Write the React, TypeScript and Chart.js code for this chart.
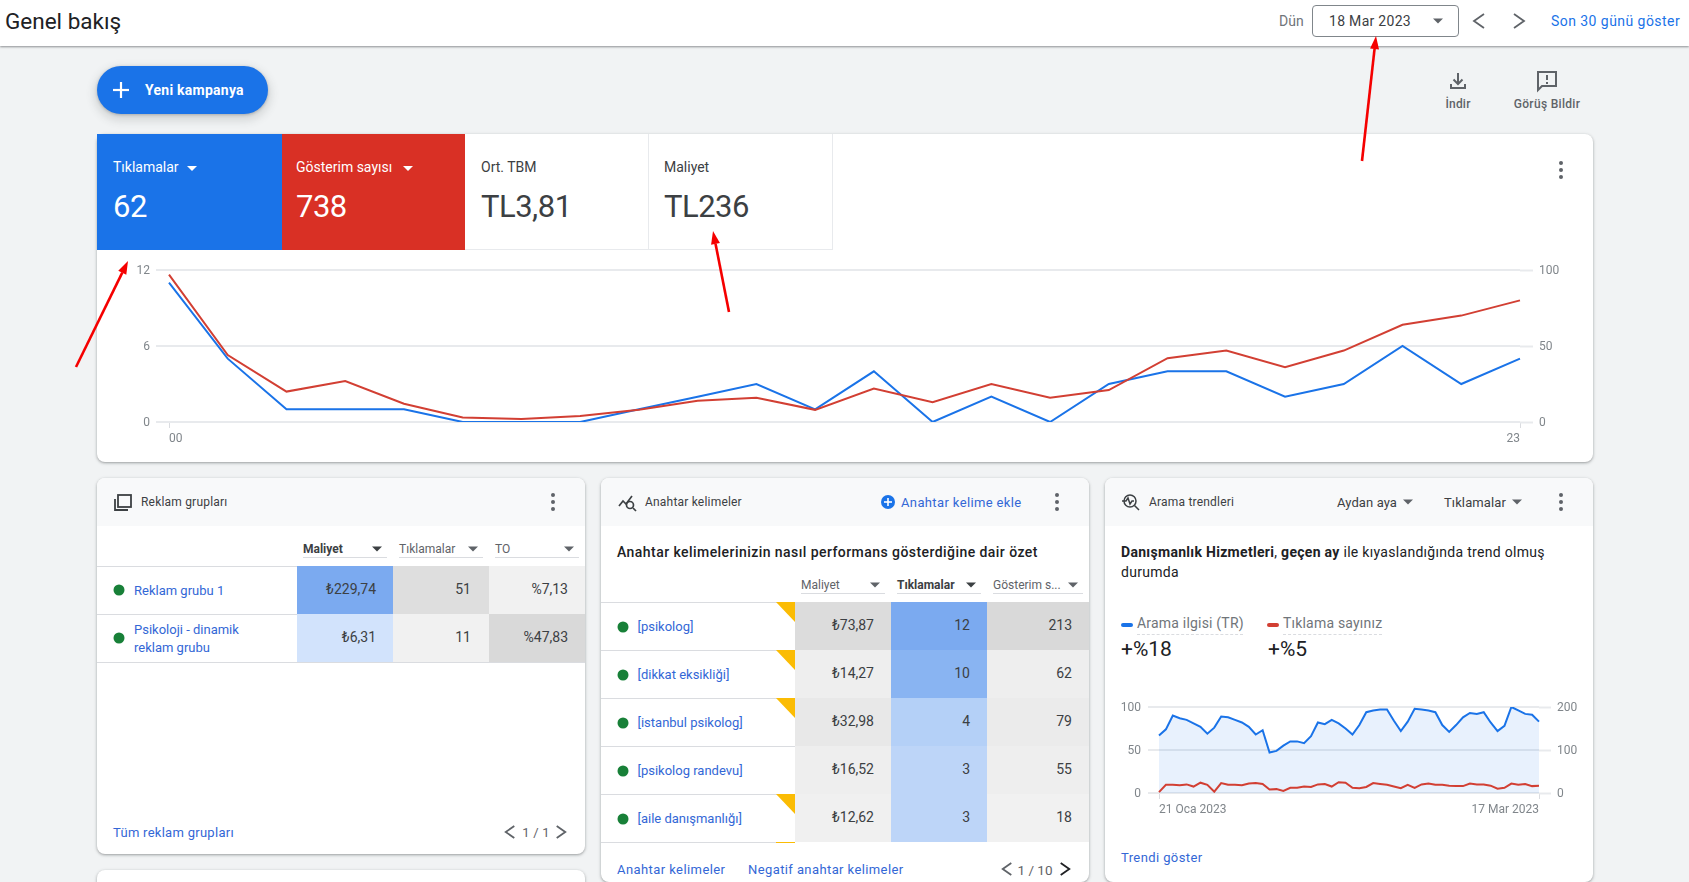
import React, { useEffect, useRef } from "react";
import { Chart, registerables } from "chart.js";

Chart.register(...registerables);

const hours = ["00","01","02","03","04","05","06","07","08","09","10","11","12","13","14","15","16","17","18","19","20","21","22","23"];
const clicks = [11,5,1,1,1,0,0,0,1,2,3,1,4,0,2,0,3,4,4,2,3,6,3,5];
const impressions = [97,44,20,27,12,3,2,4,8,14,16,8,22,13,25,16,21,42,47,36,47,64,70,80];
const leftTicks = { min: 0, max: 12, step: 6 };
const rightTicks = { min: 0, max: 100, step: 50 };

const trendDays = [
  "21 Oca 2023","22 Oca 2023","23 Oca 2023","24 Oca 2023","25 Oca 2023","26 Oca 2023","27 Oca 2023","28 Oca 2023","29 Oca 2023","30 Oca 2023","31 Oca 2023",
  "1 Şub 2023","2 Şub 2023","3 Şub 2023","4 Şub 2023","5 Şub 2023","6 Şub 2023","7 Şub 2023","8 Şub 2023","9 Şub 2023","10 Şub 2023","11 Şub 2023","12 Şub 2023","13 Şub 2023","14 Şub 2023","15 Şub 2023","16 Şub 2023","17 Şub 2023","18 Şub 2023","19 Şub 2023","20 Şub 2023","21 Şub 2023","22 Şub 2023","23 Şub 2023","24 Şub 2023","25 Şub 2023","26 Şub 2023","27 Şub 2023","28 Şub 2023",
  "1 Mar 2023","2 Mar 2023","3 Mar 2023","4 Mar 2023","5 Mar 2023","6 Mar 2023","7 Mar 2023","8 Mar 2023","9 Mar 2023","10 Mar 2023","11 Mar 2023","12 Mar 2023","13 Mar 2023","14 Mar 2023","15 Mar 2023","16 Mar 2023","17 Mar 2023",
];
const searchInterest = [67,74,90,87,85,81,77,69,76,89,88,85,82,77,68,73,47,49,55,60,60,58,66,82,80,85,81,75,68,79,94,96,97,97,84,72,83,98,97,96,94,79,71,79,88,93,92,94,82,72,78,100,96,92,91,83];
const trendClicks = [2,19,19,18,20,15,24,19,3,23,19,19,18,22,23,21,8,9,5,12,12,15,14,20,21,15,25,24,12,11,14,23,21,19,15,11,19,12,20,22,19,19,17,16,16,22,20,20,17,10,12,22,19,21,16,17];

const adGroupHeaders = ["Maliyet", "Tıklamalar", "TO"];
const adGroupNames = [["Reklam grubu 1"], ["Psikoloji - dinamik", "reklam grubu"]];
const adGroupCost = ["₺229,74", "₺6,31"];
const adGroupClicks = ["51", "11"];
const adGroupCtr = ["%7,13", "%47,83"];

const keywordHeaders = ["Maliyet", "Tıklamalar", "Gösterim s..."];
const keywordNames = ["[psikolog]", "[dikkat eksikliği]", "[istanbul psikolog]", "[psikolog randevu]", "[aile danışmanlığı]"];
const keywordCost = ["₺73,87", "₺14,27", "₺32,98", "₺16,52", "₺12,62"];
const keywordClicks = ["12", "10", "4", "3", "3"];
const keywordImpr = ["213", "62", "79", "55", "18"];
const keywordFlag = [true, true, true, false, true];

const BLUE = "#1a73e8";
const RED = "#d93025";
const LINE_RED = "#d23f33";
const LINK = "#3367d6";
const GRID = "#e8eaed";
const TICK = "#80868b";
const FONT = "Roboto, sans-serif";

type TP = { x: number; y: number; s?: number; c?: string; w?: number; a?: "l" | "r" | "c"; ls?: number; f?: string; children: React.ReactNode };
const T = ({ x, y, s = 13, c = "#3c4043", w = 400, a = "l", ls = 0, f = FONT, children }: TP) => (
  <div style={{ position: "absolute", left: x, top: y, fontFamily: f, fontSize: s, color: c, fontWeight: w, letterSpacing: ls, whiteSpace: "nowrap", lineHeight: 1.2,
    transform: `translate(${a === "l" ? "0" : a === "r" ? "-100%" : "-50%"},-50%)` }}>{children}</div>
);
const Box = ({ x, y, w, h, bg, style }: any) => (
  <div style={{ position: "absolute", left: x, top: y, width: w, height: h, background: bg, ...style }} />
);
const Card = ({ x, y, w, h }: any) => (
  <Box x={x} y={y} w={w} h={h} bg="#fff" style={{ borderRadius: 8, boxShadow: "0 1px 2px rgba(60,64,67,.3),0 1px 3px 1px rgba(60,64,67,.15)" }} />
);
const Head = ({ x, w }: any) => (
  <Box x={x} y={478} w={w} h={48} bg="#f8f9fa" style={{ borderRadius: "8px 8px 0 0" }} />
);
const Svg = ({ children }: any) => (
  <svg width={1689} height={882} style={{ position: "absolute", left: 0, top: 0, pointerEvents: "none" }}>{children}</svg>
);
const Dots = ({ x, y }: any) => (
  <g fill="#5f6368"><circle cx={x} cy={y - 7} r={2} /><circle cx={x} cy={y} r={2} /><circle cx={x} cy={y + 7} r={2} /></g>
);
const Caret = ({ x, y, c = "#5f6368", r = 5 }: any) => (
  <polygon points={`${x - r},${y - 2.5} ${x + r},${y - 2.5} ${x},${y + 2.5}`} fill={c} />
);
const Chev = ({ x, y, d, c = "#5f6368", h = 6, sw = 1.8 }: any) => (
  <polyline points={`${x - (d * h) / 1.4},${y - h} ${x + (d * h) / 1.4},${y} ${x - (d * h) / 1.4},${y + h}`} fill="none" stroke={c} strokeWidth={sw} />
);
const Arrow = ({ x1, y1, x2, y2 }: any) => {
  const L = Math.hypot(x2 - x1, y2 - y1);
  const ux = (x2 - x1) / L, uy = (y2 - y1) / L;
  const bx = x2 - ux * 13, by = y2 - uy * 13;
  return (
    <g>
      <line x1={x1} y1={y1} x2={bx} y2={by} stroke="#f50000" strokeWidth={2.6} />
      <polygon points={`${x2},${y2} ${bx - uy * 4.5},${by + ux * 4.5} ${bx + uy * 4.5},${by - ux * 4.5}`} fill="#f50000" />
    </g>
  );
};

function baseOptions(cfg: any): any {
  const firstLast = (v: any, i: number, arr: any[]) => (i === 0 || i === arr.length - 1 ? cfg.labels[i] : "");
  return {
    responsive: false,
    animation: false,
    events: [],
    layout: { padding: { top: cfg.top, left: 0, right: 0, bottom: 0 } },
    plugins: { legend: { display: false }, tooltip: { enabled: false } },
    scales: {
      x: {
        offset: false,
        border: { display: false },
        grid: {
          drawOnChartArea: false,
          drawTicks: true,
          tickLength: 6,
          tickWidth: 1,
          tickColor: (ctx: any) => (ctx.index === 0 || ctx.index === cfg.labels.length - 1 ? "#dadce0" : "rgba(0,0,0,0)"),
        },
        ticks: { autoSkip: false, maxRotation: 0, minRotation: 0, align: "inner", padding: cfg.xPad, color: TICK, font: { family: FONT, size: 12 }, callback: firstLast },
        afterFit: (a: any) => { a.height = cfg.bottom; },
      },
      y: {
        position: "left",
        min: cfg.l.min, max: cfg.l.max,
        border: { display: false },
        grid: { color: GRID, lineWidth: 2, tickLength: cfg.lTick, tickColor: GRID, tickWidth: 2 },
        ticks: { stepSize: cfg.l.step, padding: cfg.lPad, labelOffset: 1, color: TICK, font: { family: FONT, size: 12 } },
        afterFit: (a: any) => { a.width = cfg.left; },
      },
      y1: {
        position: "right",
        min: cfg.r.min, max: cfg.r.max,
        border: { display: false },
        grid: { drawOnChartArea: false, tickLength: cfg.rTick, tickColor: GRID, tickWidth: 2 },
        ticks: { stepSize: cfg.r.step, padding: cfg.rPad, labelOffset: 1, color: TICK, font: { family: FONT, size: 12 } },
        afterFit: (a: any) => { a.width = cfg.right; },
      },
    },
  };
}

const Cv = ({ x, y, w, h, make }: any) => {
  const ref = useRef<HTMLCanvasElement>(null);
  useEffect(() => {
    const chart = make(ref.current!.getContext("2d"));
    return () => chart.destroy();
  }, []);
  return <canvas ref={ref} width={w} height={h} style={{ position: "absolute", left: x, top: y, width: w, height: h, display: "block" }} />;
};

const makeMain = (ctx: any) =>
  new Chart(ctx, {
    type: "line",
    data: {
      labels: hours,
      datasets: [
        { label: "Gösterim sayısı", data: impressions, yAxisID: "y1", borderColor: LINE_RED, borderWidth: 2, pointRadius: 0, tension: 0, order: 0 },
        { label: "Tıklamalar", data: clicks, yAxisID: "y", borderColor: BLUE, borderWidth: 2, pointRadius: 0, tension: 0, order: 1 },
      ],
    },
    options: baseOptions({ labels: hours, top: 20, bottom: 40, left: 72, right: 73, l: leftTicks, r: rightTicks, lTick: 13, rTick: 13, lPad: 6, rPad: 6, xPad: 4 }),
  } as any);

const makeTrend = (ctx: any) =>
  new Chart(ctx, {
    type: "line",
    data: {
      labels: trendDays,
      datasets: [
        { label: "Tıklama sayınız", data: trendClicks, yAxisID: "y1", borderColor: LINE_RED, borderWidth: 2, pointRadius: 0, tension: 0, order: 0 },
        { label: "Arama ilgisi (TR)", data: searchInterest, yAxisID: "y", borderColor: BLUE, borderWidth: 2, pointRadius: 0, tension: 0, fill: "origin", backgroundColor: "rgba(26,115,232,0.1)", order: 1 },
      ],
    },
    options: baseOptions({ labels: trendDays, top: 17, bottom: 27, left: 54, right: 54, l: { min: 0, max: 100, step: 50 }, r: { min: 0, max: 200, step: 100 }, lTick: 11, rTick: 12, lPad: 7, rPad: 6, xPad: 4 }),
  } as any);

const cellsA = [
  ["#7baaf0", "#dedede", "#f1f1f1"],
  ["#d2e3fc", "#f1f1f1", "#d9d9d9"],
];
const cellsK = [
  ["#dcdcdc", "#7baaf0", "#d9d9d9"],
  ["#eeeeee", "#89b4f2", "#eeeeee"],
  ["#e8e8e8", "#b4d0f7", "#ebebeb"],
  ["#eeeeee", "#bdd5f8", "#eeeeee"],
  ["#f0f0f0", "#bdd5f8", "#f1f1f1"],
];

const Tab = ({ x, w, bg, label, value, dark, tx = 16 }: any) => (
  <>
    <Box x={x} y={134} w={w} h={116} bg={bg} style={dark ? {} : { boxSizing: "border-box", borderRight: "1px solid #e8eaed", borderBottom: "1px solid #e8eaed" }} />
    <T x={x + tx} y={167} s={14} c={dark ? "#fff" : "#3c4043"}>{label}</T>
    <T x={x + tx} y={207} s={31} ls={-0.5} c={dark ? "#fff" : "#3c4043"}>{value}</T>
  </>
);

export default function App() {
  return (
    <div style={{ position: "absolute", left: 0, top: 0, width: 1689, height: 882, overflow: "hidden", background: "#f1f3f4" }}>
      {/* header */}
      <Box x={0} y={0} w={1689} h={46} bg="#fff" style={{ boxShadow: "0 1px 2px rgba(60,64,67,.55)" }} />
      <T x={5} y={21} s={22.5} c="#202124">Genel bakış</T>
      <T x={1279} y={21} s={14} c="#70757a">Dün</T>
      <Box x={1312} y={5} w={147} h={32} bg="#fff" style={{ boxSizing: "border-box", border: "1px solid #80868b", borderRadius: 4 }} />
      <T x={1329} y={21} s={14} c="#3c4043" ls={0.3}>18 Mar 2023</T>
      <T x={1551} y={21} s={14} c={BLUE} w={400} ls={0.45}>Son 30 günü göster</T>

      {/* action button */}
      <Box x={97} y={66} w={171} h={48} bg={BLUE} style={{ borderRadius: 24, boxShadow: "0 1px 3px rgba(60,64,67,.3),0 4px 8px 3px rgba(60,64,67,.15)" }} />
      <T x={145} y={90} s={14} c="#fff" w={700} ls={0.25}>Yeni kampanya</T>
      <T x={1458} y={104} s={12} c="#5f6368" w={500} a="c" ls={0.2}>İndir</T>
      <T x={1547} y={104} s={12} c="#5f6368" w={500} a="c" ls={0.3}>Görüş Bildir</T>

      {/* main card */}
      <Card x={97} y={134} w={1496} h={328} />
      <Tab x={97} w={185} bg={BLUE} label="Tıklamalar" value="62" dark />
      <Tab x={282} w={183} bg={RED} label="Gösterim sayısı" value="738" dark tx={14} />
      <Tab x={465} w={184} bg="#fff" label="Ort. TBM" value="TL3,81" />
      <Tab x={649} w={184} bg="#fff" label="Maliyet" value="TL236" tx={15} />
      <Cv x={97} y={250} w={1496} h={212} make={makeMain} />

      {/* lower cards */}
      <Card x={97} y={478} w={488} h={376} />
      <Card x={97} y={870} w={488} h={60} />
      <Card x={601} y={478} w={488} h={404} />
      <Card x={1105} y={478} w={488} h={404} />
      <Head x={97} w={488} />
      <Head x={601} w={488} />
      <Head x={1105} w={488} />

      {/* ad groups */}
      <T x={141} y={502} s={12} c="#3c4043" ls={0.2}>Reklam grupları</T>
      {adGroupHeaders.map((h, i) => (
        <React.Fragment key={h}>
          <T x={303 + i * 96} y={549} s={12} c={i === 0 ? "#3c4043" : "#5f6368"} w={i === 0 ? 700 : 400}>{h}</T>
          <Box x={303 + i * 96} y={557} w={84} h={1} bg="#dadce0" />
        </React.Fragment>
      ))}
      <Box x={97} y={566} w={488} h={1} bg="#dadce0" />
      {adGroupNames.map((n, r) => {
        const top = 566 + r * 48;
        return (
          <React.Fragment key={r}>
            {[297, 393, 489].map((cx, c) => <Box key={c} x={cx} y={top} w={96} h={48} bg={cellsA[r][c]} />)}
            <Box x={97} y={top + 48} w={488} h={1} bg="#dadce0" />
            {n.length === 1
              ? <T x={134} y={top + 25} c={LINK}>{n[0]}</T>
              : <><T x={134} y={top + 16} c={LINK}>{n[0]}</T><T x={134} y={top + 34} c={LINK}>{n[1]}</T></>}
            <T x={376} y={top + 23} s={14} a="r">{adGroupCost[r]}</T>
            <T x={471} y={top + 23} s={14} a="r">{adGroupClicks[r]}</T>
            <T x={568} y={top + 23} s={14} a="r">{adGroupCtr[r]}</T>
          </React.Fragment>
        );
      })}
      <T x={113} y={833} c={LINK} ls={0.28}>Tüm reklam grupları</T>
      <T x={536} y={833} s={13} c="#5f6368" a="c" ls={0.2}>1 / 1</T>

      {/* keywords */}
      <T x={645} y={502} s={12} c="#3c4043" ls={0.2}>Anahtar kelimeler</T>
      <T x={901} y={503} s={13} c={LINK} w={400} ls={0.37}>Anahtar kelime ekle</T>
      <T x={617} y={552} s={14} c="#202124" w={500} ls={0.44}>Anahtar kelimelerinizin nasıl performans gösterdiğine dair özet</T>
      {keywordHeaders.map((h, i) => (
        <React.Fragment key={h}>
          <T x={801 + i * 96} y={585} s={12} c={i === 1 ? "#3c4043" : "#5f6368"} w={i === 1 ? 700 : 400}>{h}</T>
          <Box x={801 + i * 96} y={593} w={i === 2 ? 90 : 84} h={1} bg="#dadce0" />
        </React.Fragment>
      ))}
      <Box x={601} y={602} w={488} h={1} bg="#dadce0" />
      {keywordNames.map((n, r) => {
        const top = 602 + r * 48;
        return (
          <React.Fragment key={n}>
            {[795, 891, 987].map((cx, c) => <Box key={c} x={cx} y={top} w={c === 2 ? 102 : 96} h={48} bg={cellsK[r][c]} />)}
            <Box x={601} y={top + 48} w={194} h={1} bg="#dadce0" />
            <T x={637.5} y={top + 25} c={LINK}>{n}</T>
            <T x={874} y={top + 23} s={14} a="r">{keywordCost[r]}</T>
            <T x={970} y={top + 23} s={14} a="r">{keywordClicks[r]}</T>
            <T x={1072} y={top + 23} s={14} a="r">{keywordImpr[r]}</T>
          </React.Fragment>
        );
      })}
      <Box x={776} y={842} w={19} h={1} bg="#fbbc04" />
      <T x={617} y={870} c={LINK} ls={0.42}>Anahtar kelimeler</T>
      <T x={748} y={870} c={LINK} ls={0.4}>Negatif anahtar kelimeler</T>
      <T x={1035} y={870} s={13.5} c="#5f6368" a="c">1 / 10</T>

      {/* trends */}
      <T x={1149} y={502} s={12} c="#3c4043" ls={0.2}>Arama trendleri</T>
      <T x={1337} y={503} s={13} c="#3c4043" ls={0.1}>Aydan aya</T>
      <T x={1444} y={503} s={13} c="#3c4043" ls={0.1}>Tıklamalar</T>
      <T x={1121} y={552} s={14} c="#202124" ls={0.3}><b style={{ fontWeight: 700 }}>Danışmanlık Hizmetleri</b>, <b style={{ fontWeight: 700 }}>geçen ay</b> ile kıyaslandığında trend olmuş</T>
      <T x={1121} y={572} s={14} c="#202124" ls={0.3}>durumda</T>
      <Box x={1121} y={623} w={12} h={4} bg={BLUE} style={{ borderRadius: 2 }} />
      <T x={1137} y={623} s={14} c="#70757a" ls={0.2}>Arama ilgisi (TR)</T>
      <Box x={1137} y={634} w={106} h={0} style={{ borderTop: "1px dashed #dadce0" }} />
      <Box x={1267} y={623} w={12} h={4} bg={LINE_RED} style={{ borderRadius: 2 }} />
      <T x={1283} y={623} s={14} c="#70757a" ls={0.2}>Tıklama sayınız</T>
      <Box x={1283} y={634} w={99} h={0} style={{ borderTop: "1px dashed #dadce0" }} />
      <T x={1121} y={650} s={21} c="#202124">+%18</T>
      <T x={1268} y={650} s={21} c="#202124">+%5</T>
      <Cv x={1105} y={690} w={488} h={130} make={makeTrend} />
      <T x={1121} y={858} s={13} c={LINK} ls={0.4}>Trendi göster</T>

      {/* icons and annotations */}
      <Svg>
        <Caret x={1438} y={21} />
        <Chev x={1479} y={21} d={-1} h={7} />
        <Chev x={1519} y={21} d={1} h={7} />
        <g stroke="#fff" strokeWidth={2.2}><line x1={113} y1={90} x2={129} y2={90} /><line x1={121} y1={82} x2={121} y2={98} /></g>
        <g fill="none" stroke="#5f6368" strokeWidth={2}>
          <path d="M1451 84v4h14v-4" />
          <path d="M1458 73v11M1453.500 79.500l4.500 4.500 4.500-4.500" />
          <path d="M1538 72h18v14h-14l-4 4z" />
        </g>
        <g fill="#5f6368"><rect x={1546} y={75} width={2} height={5} /><rect x={1546} y={82} width={2} height={2} /></g>
        <Dots x={1561} y={170} />
        <polygon points="187,166 197,166 192,171" fill="#fff" />
        <polygon points="403,166 413,166 408,171" fill="#fff" />

        <Dots x={553} y={502} />
        <g fill="none" stroke="#3c4043" strokeWidth={1.8}>
          <rect x={118} y={495} width={13} height={12} />
          <path d="M115 499v11h13" />
        </g>
        <Caret x={377} y={549} c="#3c4043" />
        <Caret x={473} y={549} />
        <Caret x={569} y={549} />
        <g fill="#188038"><circle cx={119} cy={590} r={5.5} /><circle cx={119} cy={638} r={5.5} /></g>
        <Chev x={510} y={832} d={-1} />
        <Chev x={561} y={832} d={1} />

        <Dots x={1057} y={502} />
        <g fill="none" stroke="#3c4043" strokeWidth={1.7}>
          <path d="M619 506l4-5 3 3 6-8" />
          <circle cx={630} cy={505} r={3.5} />
          <path d="M633 508l3 3" />
        </g>
        <circle cx={888} cy={502} r={7} fill={BLUE} />
        <g stroke="#fff" strokeWidth={1.6}><line x1={884} y1={502} x2={892} y2={502} /><line x1={888} y1={498} x2={888} y2={506} /></g>
        <Caret x={875} y={585} />
        <Caret x={971} y={585} c="#3c4043" />
        <Caret x={1073} y={585} />
        {keywordFlag.map((on, r) => on && (
          <polygon key={r} points={`776,${602 + r * 48} 795,${602 + r * 48} 795,${622 + r * 48}`} fill="#fbbc04" />
        ))}
        <g fill="#188038">{keywordNames.map((n, r) => <circle key={n} cx={623} cy={627 + r * 48} r={5.5} />)}</g>
        <Chev x={1007} y={869} d={-1} />
        <Chev x={1065} y={869} d={1} c="#202124" />

        <Dots x={1561} y={502} />
        <g fill="none" stroke="#3c4043" strokeWidth={1.5}>
          <circle cx={1130} cy={501} r={6} />
          <path d="M1134.500 505.500l4.500 4.500M1122 501h4l2-3 2 6 2-3h2" />
        </g>
        <Caret x={1408} y={502} />
        <Caret x={1517} y={502} />

        <Arrow x1={76} y1={367} x2={128} y2={261} />
        <Arrow x1={729} y1={312} x2={713} y2={231} />
        <Arrow x1={1362} y1={161} x2={1376} y2={36} />
      </Svg>
    </div>
  );
}
